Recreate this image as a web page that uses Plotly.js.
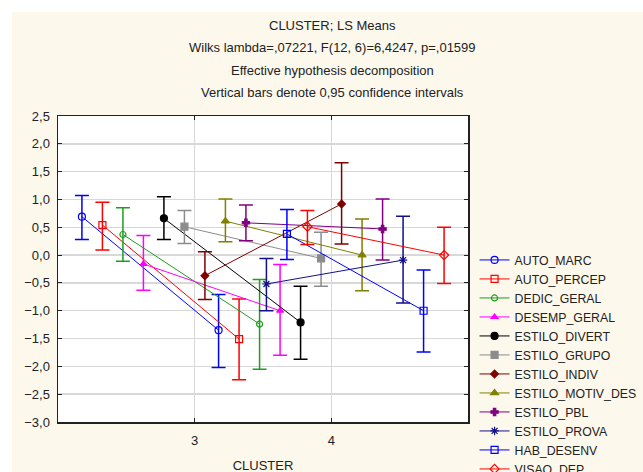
<!DOCTYPE html>
<html>
<head>
<meta charset="utf-8">
<script src="https://cdn.plot.ly/plotly-3.0.1.min.js"></script>
<style>
  html, body { margin:0; padding:0; background:#ffffff; overflow:hidden; width:643px; height:472px; }
  #chart { position:absolute; left:12px; top:12px; width:631px; height:520px; }
</style>
</head>
<body>
<div id="chart"></div>
<script>
// ---- data (LS means and 95% confidence limits per cluster) ----
const clusters = [3, 4];
const variables = ["AUTO_MARC","AUTO_PERCEP","DEDIC_GERAL","DESEMP_GERAL","ESTILO_DIVERT","ESTILO_GRUPO",
                   "ESTILO_INDIV","ESTILO_MOTIV_DES","ESTILO_PBL","ESTILO_PROVA","HAB_DESENV","VISAO_DEP"];
const meanC3 = [0.69, 0.54, 0.37, -0.16, 0.66, 0.51, -0.37, 0.61, 0.58, -0.52, 0.38, 0.51];
const upC3   = [1.07, 0.95, 0.85, 0.35, 1.05, 0.80, 0.06, 1.01, 0.90, -0.06, 0.82, 0.80];
const loC3   = [0.28, 0.09, -0.11, -0.63, 0.28, 0.21, -0.80, 0.24, 0.26, -1.00, -0.08, 0.19];
const meanC4 = [-1.35, -1.51, -1.24, -1.00, -1.21, -0.06, 0.92, 0.00, 0.47, -0.09, -1.00, 0.00];
const upC4   = [-0.71, -0.79, -0.44, -0.17, -0.56, 0.41, 1.66, 0.65, 1.01, 0.70, -0.27, 0.50];
const loC4   = [-2.02, -2.24, -2.05, -1.80, -1.87, -0.56, 0.20, -0.64, -0.09, -0.86, -1.74, -0.51];
const titleLines = ["CLUSTER; LS Means",
                    "Wilks lambda=,07221, F(12, 6)=6,4247, p=,01599",
                    "Effective hypothesis decomposition",
                    "Vertical bars denote 0,95 confidence intervals"];

// ---- styles ----
const colors = ["#0000ff","#ff0000","#1e9e1e","#ff00ff","#000000","#8c8c8c",
                "#800000","#808000","#800080","#10108a","#0000ff","#ff0000"];
const symbols = ["circle-open","square-open","circle-open","triangle-up","circle","square",
                 "diamond","triangle-up","cross","asterisk-open","square-open","diamond-open"];
const sizes = [7,7,6,6,7,7,6,7,6,7,7,7];
const dodgeStep = 0.15;

const traces = variables.map((name, i) => {
  const off = (i - (variables.length - 1) / 2) * dodgeStep;
  const m = [meanC3[i], meanC4[i]];
  const up = [upC3[i], upC4[i]];
  const lo = [loC3[i], loC4[i]];
  return {
    type: "scatter",
    mode: "lines+markers",
    name: name,
    x: clusters.map(c => c + off),
    y: m,
    line: {color: colors[i], width: 1},
    marker: {symbol: symbols[i], size: sizes[i], color: colors[i], line: {color: colors[i], width: 1.2}},
    error_y: {
      type: "data", symmetric: false,
      array: up.map((u, k) => u - m[k]),
      arrayminus: lo.map((l, k) => m[k] - l),
      color: colors[i], thickness: 1.5, width: 7
    }
  };
});

const pyTitle = [1.295, 1.223, 1.150, 1.077];
const annotations = titleLines.map((t, k) => ({
  text: t, xref: "paper", yref: "paper", x: 0.670, y: pyTitle[k],
  xanchor: "center", yanchor: "middle", showarrow: false,
  font: {family: "Liberation Sans, Arial, sans-serif", size: 13, color: "#222222"}
}));

const layout = {
  width: 631, height: 520,
  paper_bgcolor: "#fdf8ec",
  plot_bgcolor: "#ffffff",
  separators: ", ",
  margin: {l: 45.7, r: 174.7, t: 104, b: 110, autoexpand: false},
  font: {family: "Liberation Sans, Arial, sans-serif", size: 13, color: "#222222"},
  showlegend: true,
  legend: {
    x: 1.016, xanchor: "left", y: 0.577, yanchor: "top",
    bgcolor: "rgba(0,0,0,0)", borderwidth: 0,
    font: {size: 12.3, color: "#222222"}
  },
  xaxis: {
    range: [2, 5], tickvals: clusters, ticktext: clusters.map(String),
    showgrid: true, gridcolor: "#d8d8d8", gridwidth: 1.5,
    zeroline: false,
    showline: true, linecolor: "#222222", linewidth: 1.5, mirror: "ticks",
    ticks: "inside", ticklen: 4, tickcolor: "#222222", ticklabelstandoff: 6,
    title: {text: "CLUSTER", standoff: 14, font: {size: 13, color: "#222222"}}
  },
  yaxis: {
    range: [-3, 2.5], dtick: 0.5, tick0: 0, tickformat: ".1f",
    showgrid: true, gridcolor: "#d8d8d8", gridwidth: 1.5,
    zeroline: false,
    showline: true, linecolor: "#222222", linewidth: 1.5, mirror: "ticks",
    ticks: "inside", ticklen: 4, tickcolor: "#222222", ticklabelstandoff: 4
  },
  annotations: annotations
};

Plotly.newPlot("chart", traces, layout, {displayModeBar: false, staticPlot: true});
</script>
</body>
</html>
